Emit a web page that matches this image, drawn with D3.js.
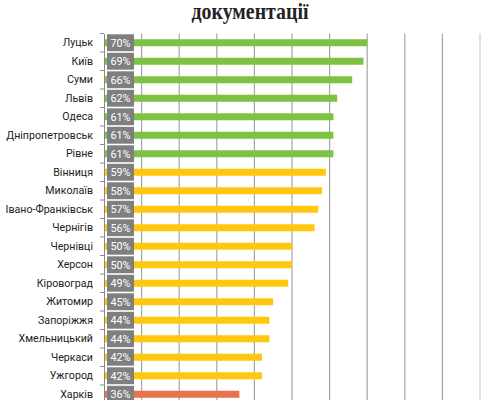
<!DOCTYPE html>
<html>
<head>
<meta charset="utf-8">
<script src="https://cdn.jsdelivr.net/npm/d3@7"></script>
<style>
  body { margin: 0; background: #fff; }
  svg { display: block; }
</style>
</head>
<body>
<div id="chart"></div>
<script>
var cities = ["Луцьк","Київ","Суми","Львів","Одеса","Дніпропетровськ","Рівне",
              "Вінниця","Миколаїв","Івано-Франківськ","Чернігів","Чернівці","Херсон",
              "Кіровоград","Житомир","Запоріжжя","Хмельницький","Черкаси","Ужгород","Харків"];
var values = [70,69,66,62,61,61,61,59,58,57,56,50,50,49,45,44,44,42,42,36];
var groups = ["high","high","high","high","high","high","high",
              "mid","mid","mid","mid","mid","mid","mid","mid","mid","mid","mid","mid","low"];
var gridTicks = [10,20,30,40,50,60,70,80,90,100];
var titleText = "документації";

var colors = {high: "#7dc242", mid: "#ffc80f", low: "#e8734a"};

var width = 500, height = 400;
var margin = {top: 33.5, left: 104};
var rowStep = 18.5;

var svg = d3.select("#chart").append("svg")
    .attr("width", width)
    .attr("height", height);

// measure a string so the fonts here can be sized like the narrow original
function fitSize(str, family, targetW) {
    var t = svg.append("text").style("font-family", family).style("font-size", "12px").text(str);
    var w = t.node().getComputedTextLength();
    t.remove();
    return 12 * targetW / w;
}
var labelSize = fitSize("Дніпропетровськ", "Roboto, sans-serif", 87);
var pctSize = fitSize("70%", "Roboto, sans-serif", 20);

// title (only its last line shows)
svg.append("text")
    .attr("x", 250)
    .attr("y", 19)
    .attr("text-anchor", "middle")
    .attr("textLength", 117)
    .attr("lengthAdjust", "spacingAndGlyphs")
    .style("font-family", "'Liberation Serif', serif")
    .style("font-weight", "bold")
    .style("font-size", "24px")
    .style("fill", "#222")
    .text(titleText);

var x = d3.scaleLinear()
    .domain([0, 100])
    .range([margin.left, 480]);

var y = d3.scaleBand()
    .domain(cities)
    .range([margin.top, margin.top + cities.length * rowStep])
    .paddingInner(0)
    .paddingOuter(0);

// grid lines
svg.append("g").selectAll("line")
    .data(gridTicks)
    .enter()
    .append("line")
    .attr("x1", function(d) { return x(d); })
    .attr("x2", function(d) { return x(d); })
    .attr("y1", margin.top)
    .attr("y2", height)
    .style("stroke", function(d) { return d == 100 ? "#cfcfcf" : "#a6a6a6"; })
    .style("stroke-width", "1.2px");

// bars
var barH = 7;
svg.append("g").selectAll("rect")
    .data(cities)
    .enter()
    .append("rect")
    .attr("x", x(0))
    .attr("y", function(d) { return y(d) + y.bandwidth() / 2 - barH / 2; })
    .attr("width", function(d, i) { return x(values[i]) - x(0); })
    .attr("height", barH)
    .style("fill", function(d, i) { return colors[groups[i]]; });

// grey label boxes
var boxes = svg.append("g").selectAll("g")
    .data(cities)
    .enter()
    .append("g");

boxes.append("rect")
    .attr("x", 107)
    .attr("y", function(d) { return y(d) + 0.8; })
    .attr("width", 27)
    .attr("height", y.bandwidth() - 1.6)
    .style("fill", "#7f7f7f");

boxes.append("text")
    .attr("x", 120.5)
    .attr("y", function(d) { return y(d) + y.bandwidth() / 2; })
    .attr("dy", "0.36em")
    .attr("text-anchor", "middle")
    .style("font-family", "Roboto, sans-serif")
    .style("font-size", pctSize + "px")
    .style("fill", "#fff")
    .text(function(d, i) { return values[i] + "%"; });

// category axis
var axis = d3.axisLeft(y).tickSize(0).tickPadding(11);
var gAxis = svg.append("g")
    .attr("transform", "translate(" + margin.left + ",0)")
    .call(axis);
gAxis.select(".domain").style("stroke", "#888").style("stroke-width", "1px");
gAxis.selectAll("text")
    .style("font-family", "Roboto, sans-serif")
    .style("font-size", labelSize + "px")
    .style("fill", "#222");

// small tick marks between categories
svg.append("g").selectAll("line")
    .data(cities)
    .enter()
    .append("line")
    .attr("x1", margin.left - 4)
    .attr("x2", margin.left)
    .attr("y1", function(d) { return y(d); })
    .attr("y2", function(d) { return y(d); })
    .style("stroke", "#888");
</script>
</body>
</html>
